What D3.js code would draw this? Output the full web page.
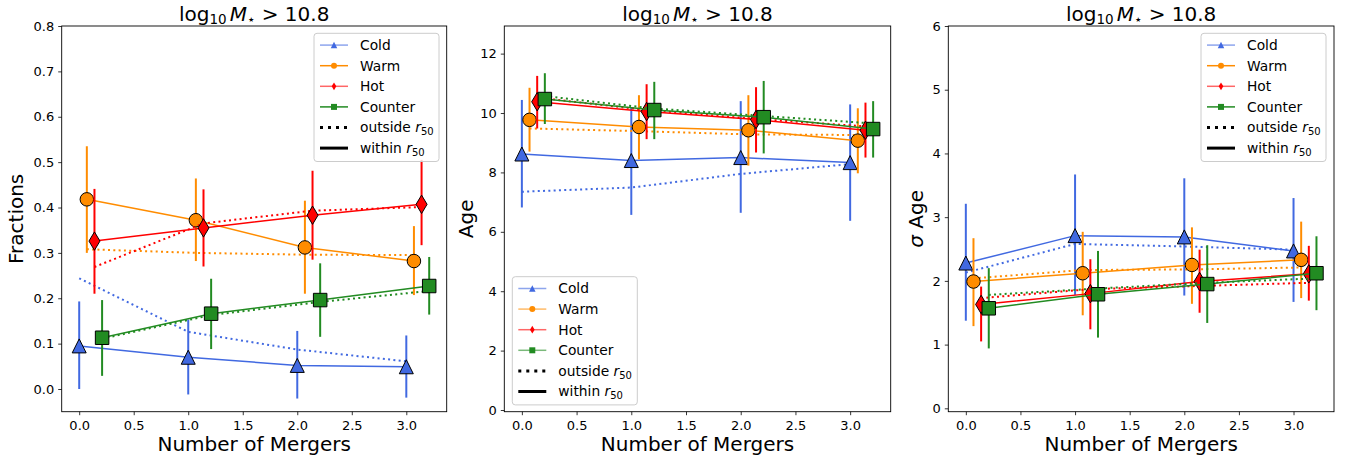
<!DOCTYPE html>
<html>
<head>
<meta charset="utf-8">
<script src="https://cdn.jsdelivr.net/npm/d3@7"></script>
<style>
body { margin: 0; background: #fff; }
svg { font-family: "DejaVu Sans", sans-serif; }
</style>
</head>
<body>
<script>
// ---- data ----
var mergers = [0, 1, 2, 3];
var components = ["Cold", "Warm", "Hot", "Counter"];
var offsets = [0, 0.07, 0.14, 0.21];
var xTicks = [0, 0.5, 1, 1.5, 2, 2.5, 3];

// fractions: rows = Cold, Warm, Hot, Counter
var fracWithin = [[0.095, 0.070, 0.052, 0.049], [0.418, 0.372, 0.312, 0.282], [0.326, 0.355, 0.383, 0.407], [0.113, 0.166, 0.196, 0.227]];
var fracLow = [[0.000, -0.012, -0.021, -0.019], [0.300, 0.282, 0.210, 0.207], [0.210, 0.270, 0.285, 0.317], [0.029, 0.088, 0.115, 0.164]];
var fracHigh = [[0.193, 0.153, 0.128, 0.118], [0.535, 0.464, 0.415, 0.359], [0.441, 0.440, 0.481, 0.505], [0.196, 0.243, 0.277, 0.291]];
var fracOutside = [[0.244, 0.126, 0.087, 0.061], [0.308, 0.300, 0.296, 0.295], [0.269, 0.365, 0.393, 0.401], [0.111, 0.163, 0.192, 0.216]];
var fracTicks = [0, 0.1, 0.2, 0.3, 0.4, 0.5, 0.6, 0.7, 0.8];

// age
var ageWithin = [[8.62, 8.40, 8.50, 8.33], [9.77, 9.53, 9.42, 9.07], [10.38, 10.05, 9.78, 9.42], [10.47, 10.10, 9.86, 9.46]];
var ageLow = [[6.82, 6.57, 6.64, 6.37], [8.70, 8.44, 8.23, 7.97], [9.48, 9.12, 8.67, 8.50], [9.63, 9.12, 8.64, 8.50]];
var ageHigh = [[10.44, 10.20, 10.40, 10.29], [10.85, 10.60, 10.60, 10.16], [11.25, 10.97, 10.87, 10.35], [11.34, 11.05, 11.08, 10.40]];
var ageOutside = [[7.35, 7.49, 7.95, 8.28], [9.48, 9.39, 9.28, 9.26], [10.52, 10.10, 9.80, 9.55], [10.57, 10.15, 9.90, 9.65]];
var ageTicks = [0, 2, 4, 6, 8, 10, 12];

// sigma age
var sigWithin = [[2.28, 2.71, 2.69, 2.47], [1.99, 2.12, 2.25, 2.33], [1.63, 1.80, 1.99, 2.11], [1.57, 1.79, 1.95, 2.12]];
var sigLow = [[1.375, 1.78, 1.77, 1.67], [1.29, 1.46, 1.64, 1.73], [1.05, 1.24, 1.50, 1.69], [0.94, 1.11, 1.34, 1.54]];
var sigHigh = [[3.21, 3.67, 3.61, 3.30], [2.67, 2.77, 2.84, 2.93], [1.91, 2.34, 2.49, 2.55], [2.20, 2.47, 2.56, 2.70]];
var sigOutside = [[2.13, 2.58, 2.54, 2.49], [2.04, 2.17, 2.18, 2.21], [1.73, 1.87, 1.92, 1.97], [1.78, 1.88, 1.97, 2.04]];
var sigTicks = [0, 1, 2, 3, 4, 5, 6];

// ---- styles ----
var colors = ["royalblue", "darkorange", "red", "forestgreen"];
var shapes = ["tri", "circle", "diamond", "square"];
var plotTop = 26, plotBottom = 411.7;

var panels = [
    { left: 61.7, right: 446.7, yDomain: [-0.05, 0.8], yTicks: fracTicks, yFmt: d3.format(".1f"),
      label: "Fractions", labelX: -38.7,
      within: fracWithin, low: fracLow, high: fracHigh, outside: fracOutside,
      legend: { x: 314, y: 33.3, alpha: [0.6, 1, 0.6, 1] } },
    { left: 504.3, right: 890.7, yDomain: [-0.057, 12.93], yTicks: ageTicks, yFmt: d3.format("d"),
      label: "Age", labelX: -31,
      within: ageWithin, low: ageLow, high: ageHigh, outside: ageOutside,
      legend: { x: 512.3, y: 276.7, alpha: [0.6, 0.6, 0.6, 0.6] } },
    { left: 948.3, right: 1334, yDomain: [-0.053, 6], yTicks: sigTicks, yFmt: d3.format("d"),
      label: "sigma", labelX: -25,
      within: sigWithin, low: sigLow, high: sigHigh, outside: sigOutside,
      legend: { x: 1201, y: 33.3, alpha: [0.6, 1, 0.6, 1] } }
];

var svg = d3.select("body").append("svg")
    .attr("width", 1351)
    .attr("height", 460);

// marker outline centred on 0,0
function markerPath(shape, s) {
    var h = s / 2;
    if (shape == "tri") return "M0," + (-h) + "L" + h + "," + h + "L" + (-h) + "," + h + "Z";
    if (shape == "circle") return "M" + h + ",0A" + h + "," + h + " 0 1,1 " + (-h) + ",0A" + h + "," + h + " 0 1,1 " + h + ",0Z";
    if (shape == "square") return "M" + (-h) + "," + (-h) + "H" + h + "V" + h + "H" + (-h) + "Z";
    var dh = s * Math.SQRT2 / 2, dw = dh * 0.6; // thin diamond
    return "M0," + (-dh) + "L" + dw + ",0L0," + dh + "L" + (-dw) + ",0Z";
}
var markerSize = { tri: 14, circle: 13.5, square: 13.5, diamond: 13 };
var legendSize = { tri: 6.5, circle: 6, square: 6, diamond: 5.5 };

function drawTitle(cx) {
    var t = svg.append("text")
        .attr("x", cx).attr("y", 20.5)
        .attr("text-anchor", "middle")
        .style("font-size", "20px");
    t.append("tspan").text("log");
    t.append("tspan").attr("dy", 3).style("font-size", "13.5px").text("10");
    t.append("tspan").attr("dy", -3).attr("dx", 3).style("font-style", "italic").text("M");
    t.append("tspan").attr("dy", 3).style("font-size", "13.5px").text("⋆");
    t.append("tspan").attr("dy", -3).text(" > 10.8");
}

function drawLegend(lg) {
    var g = svg.append("g").attr("transform", "translate(" + lg.x + "," + lg.y + ")");
    g.append("rect")
        .attr("width", 125).attr("height", 128.2)
        .attr("rx", 3)
        .attr("fill", "white").attr("fill-opacity", 0.8)
        .attr("stroke", "#cccccc").attr("stroke-width", 1);
    var rowY = function (k) { return 11.8 + k * 20.6; };
    components.forEach(function (c, i) {
        var yy = rowY(i);
        g.append("line")
            .attr("x1", 6).attr("x2", 34).attr("y1", yy).attr("y2", yy)
            .attr("stroke", colors[i]).attr("stroke-opacity", lg.alpha[i]).attr("stroke-width", 1.5);
        g.append("path")
            .attr("transform", "translate(20," + yy + ")")
            .attr("d", markerPath(shapes[i], legendSize[shapes[i]]))
            .attr("fill", colors[i]);
        g.append("text")
            .attr("x", 46).attr("y", yy).attr("dy", "0.36em")
            .style("font-size", "13.8px")
            .text(c);
    });
    [["outside ", "3,5"], ["within ", null]].forEach(function (e, k) {
        var yy = rowY(4 + k);
        var ln = g.append("line")
            .attr("x1", 6).attr("x2", 34).attr("y1", yy).attr("y2", yy)
            .attr("stroke", "black").attr("stroke-width", 3);
        if (e[1]) ln.attr("stroke-dasharray", e[1]);
        var t = g.append("text")
            .attr("x", 46).attr("y", yy).attr("dy", "0.36em")
            .style("font-size", "13.8px");
        t.append("tspan").text(e[0]);
        t.append("tspan").style("font-style", "italic").text("r");
        t.append("tspan").attr("dy", 3).style("font-size", "10px").text("50");
    });
}

panels.forEach(function (p) {
    var x = d3.scaleLinear().domain([-0.1605, 3.3705]).range([p.left, p.right]);
    var y = d3.scaleLinear().domain(p.yDomain).range([plotBottom, plotTop]);
    var g = svg.append("g");

    // axes
    var xa = g.append("g")
        .attr("transform", "translate(0," + plotBottom + ")")
        .call(d3.axisBottom(x).tickValues(xTicks).tickFormat(d3.format(".1f"))
            .tickSize(3.5).tickPadding(5.5).tickSizeOuter(0));
    var ya = g.append("g")
        .attr("transform", "translate(" + p.left + ",0)")
        .call(d3.axisLeft(y).tickValues(p.yTicks).tickFormat(p.yFmt)
            .tickSize(3.5).tickPadding(4).tickSizeOuter(0));
    [xa, ya].forEach(function (a) {
        a.select(".domain").remove();
        a.selectAll("line").attr("stroke", "black").attr("stroke-width", 0.8);
        a.selectAll("text").attr("fill", "black").style("font-size", "13px")
            .style("font-family", "DejaVu Sans, sans-serif");
    });

    // series
    components.forEach(function (c, i) {
        var pts = mergers.map(function (m, k) {
            return { x: m + offsets[i], v: p.within[i][k], lo: p.low[i][k], hi: p.high[i][k], o: p.outside[i][k] };
        });
        // outside r50 (dotted)
        g.append("path").datum(pts)
            .attr("d", d3.line().x(function (d) { return x(d.x); }).y(function (d) { return y(d.o); }))
            .attr("fill", "none").attr("stroke", colors[i])
            .attr("stroke-width", 2).attr("stroke-dasharray", "2,3.3");
        // within r50 (solid)
        g.append("path").datum(pts)
            .attr("d", d3.line().x(function (d) { return x(d.x); }).y(function (d) { return y(d.v); }))
            .attr("fill", "none").attr("stroke", colors[i]).attr("stroke-width", 1.5);
        // error bars
        g.selectAll(null).data(pts).enter().append("line")
            .attr("x1", function (d) { return x(d.x); })
            .attr("x2", function (d) { return x(d.x); })
            .attr("y1", function (d) { return y(d.lo); })
            .attr("y2", function (d) { return y(d.hi); })
            .attr("stroke", colors[i]).attr("stroke-width", 2);
        // markers
        g.selectAll(null).data(pts).enter().append("path")
            .attr("transform", function (d) { return "translate(" + x(d.x) + "," + y(d.v) + ")"; })
            .attr("d", markerPath(shapes[i], markerSize[shapes[i]]))
            .attr("fill", colors[i]).attr("stroke", "black").attr("stroke-width", 1);
    });

    // frame
    g.append("rect")
        .attr("x", p.left).attr("y", plotTop)
        .attr("width", p.right - p.left).attr("height", plotBottom - plotTop)
        .attr("fill", "none").attr("stroke", "black").attr("stroke-width", 0.9);

    drawTitle((p.left + p.right) / 2);

    // x label
    svg.append("text")
        .attr("x", (p.left + p.right) / 2).attr("y", 450.5)
        .attr("text-anchor", "middle")
        .style("font-size", "20px")
        .text("Number of Mergers");

    // y label
    var yl = svg.append("text")
        .attr("transform", "translate(" + (p.left + p.labelX) + "," + ((plotTop + plotBottom) / 2) + ") rotate(-90)")
        .attr("text-anchor", "middle")
        .style("font-size", "20px");
    if (p.label == "sigma") {
        yl.append("tspan").style("font-style", "italic").text("σ");
        yl.append("tspan").text(" Age");
    } else {
        yl.text(p.label);
    }

    drawLegend(p.legend);
});
</script>
</body>
</html>
